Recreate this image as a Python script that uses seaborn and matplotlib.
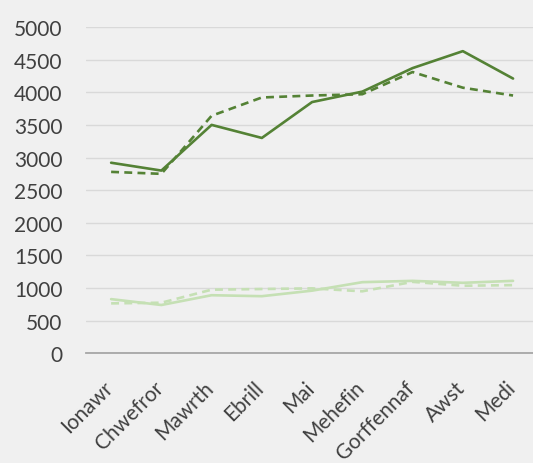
import matplotlib
matplotlib.use("Agg")
import matplotlib.pyplot as plt
from matplotlib.transforms import ScaledTranslation
import seaborn as sns
import pandas as pd

months = ["Ionawr", "Chwefror", "Mawrth", "Ebrill", "Mai",
          "Mehefin", "Gorffennaf", "Awst", "Medi"]
dark_solid = [2920, 2800, 3500, 3300, 3850, 4010, 4370, 4630, 4210]
dark_dashed = [2780, 2750, 3640, 3920, 3950, 3970, 4310, 4070, 3950]
light_solid = [830, 740, 890, 875, 960, 1090, 1110, 1080, 1110]
light_dashed = [765, 775, 975, 985, 995, 950, 1095, 1035, 1045]
y_ticks = [0, 500, 1000, 1500, 2000, 2500, 3000, 3500, 4000, 4500, 5000]

sns.set_theme(style="white")
plt.rcParams["font.family"] = ["Lato", "DejaVu Sans"]

bg = "#f0f0f0"
dark = "#548235"
light = "#c5e0b4"

fig = plt.figure(figsize=(5.33, 4.64), dpi=100, facecolor=bg)
ax = fig.add_axes([86 / 533, 109.7 / 464, 1 - 86 / 533 + 0.005, 326.3 / 464])
ax.set_facecolor(bg)

series = [
    (light_solid, light, "-"),
    (light_dashed, light, (0, (3, 2))),
    (dark_solid, dark, "-"),
    (dark_dashed, dark, (0, (3, 2))),
]
for vals, col, ls in series:
    df = pd.DataFrame({"month": months, "value": vals})
    sns.lineplot(data=df, x="month", y="value", ax=ax, color=col,
                 linewidth=1.9, linestyle=ls, sort=False)

ax.set_xlim(-0.5, 8.45)
ax.set_ylim(0, 5000)
ax.set_yticks(y_ticks)
ax.set_yticklabels([str(t) for t in y_ticks])
ax.yaxis.grid(True, color="#d9d9d9", linewidth=1.0)
ax.set_axisbelow(True)
for s in ["left", "right", "top"]:
    ax.spines[s].set_visible(False)
ax.spines["bottom"].set_color("#a6a6a6")
ax.spines["bottom"].set_linewidth(1.3)
ax.set_xlabel("")
ax.set_ylabel("")
ax.tick_params(axis="both", length=0, labelsize=15, labelcolor="#404040")
ax.tick_params(axis="y", pad=17)
ax.set_xticks(range(len(months)))
ax.set_xticklabels(months, rotation=45, ha="right", rotation_mode="anchor")
ax.tick_params(axis="x", pad=17)
shift = ScaledTranslation(-0.08, 0, fig.dpi_scale_trans)
for lbl in ax.get_xticklabels():
    lbl.set_transform(lbl.get_transform() + shift)

fig.savefig("out.png", dpi=100, facecolor=bg)
